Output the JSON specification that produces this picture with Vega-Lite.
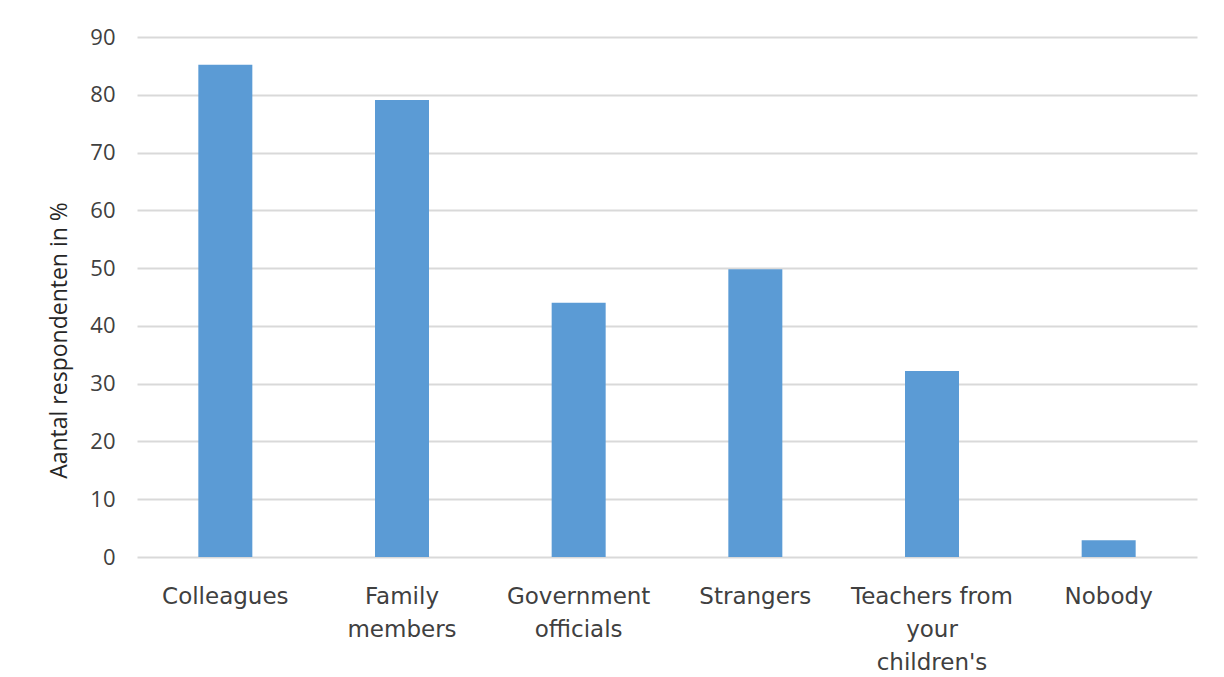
{
  "$schema": "https://vega.github.io/schema/vega-lite/v6.json",
  "width": 1060,
  "height": 520,
  "autosize": "none",
  "padding": {"left": 137, "top": 37, "right": 27, "bottom": 120},
  "background": "white",
  "config": {"view": {"stroke": null}, "font": "Open Sans"},
  "data": {"values": [
    {"group": "Colleagues", "value": 85.2},
    {"group": "Family members", "value": 79.1},
    {"group": "Government officials", "value": 44.0},
    {"group": "Strangers", "value": 49.8},
    {"group": "Teachers from your children's", "value": 32.2},
    {"group": "Nobody", "value": 2.9}
  ]},
  "mark": {"type": "bar", "color": "#5b9bd5", "width": 54},
  "encoding": {
    "x": {"field": "group", "type": "nominal", "sort": null,
      "scale": {"paddingInner": 0, "paddingOuter": 0},
      "axis": {"title": null, "labelAngle": 0, "ticks": false, "domain": false,
        "labelFontSize": 23, "labelColor": "#404040", "labelPadding": 28,
        "labelLineHeight": 33, "labelFont": "DejaVu Sans",
        "labelExpr": "datum.value == 'Family members' ? ['Family', 'members'] : datum.value == 'Government officials' ? ['Government', 'officials'] : datum.value == \"Teachers from your children's\" ? ['Teachers from', 'your', \"children's\"] : datum.value"}},
    "y": {"field": "value", "type": "quantitative",
      "scale": {"domain": [0, 90], "nice": false},
      "axis": {"title": "Aantal respondenten in %", "titleFontSize": 23, "titleFontWeight": "normal",
        "titleColor": "#262626", "titlePadding": 18, "titleFont": "Open Sans", "titleY": 303,
        "values": [0,10,20,30,40,50,60,70,80,90], "labelFontSize": 22, "labelColor": "#404040",
        "labelFont": "Open Sans", "labelPadding": 22, "ticks": false, "domain": false,
        "gridColor": "#d9d9d9", "gridWidth": 2}}
  }
}
